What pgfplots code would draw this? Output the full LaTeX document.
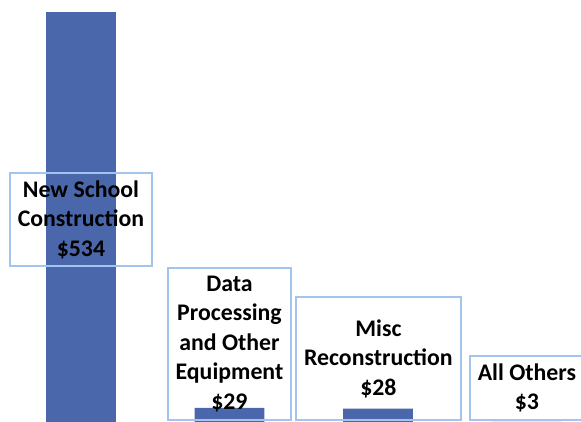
\documentclass[border=0pt]{standalone}
\usepackage{pgfplots}
\pgfplotsset{compat=1.18}
\usepackage{fontspec}
\setmainfont{Carlito}
\definecolor{barblue}{RGB}{74,103,172}
\definecolor{boxblue}{RGB}{164,196,240}
\tikzset{lbl/.style={draw=boxblue, line width=2pt, align=center, inner sep=0pt,
                     font=\fontsize{23.8}{29.5}\selectfont\bfseries}}
\begin{document}
\begin{tikzpicture}
\useasboundingbox (0,0) rectangle (581pt,422pt);
\clip (0,0) rectangle (581pt,422pt);
\begin{axis}[
  at={(0,0)}, anchor=south west,
  scale only axis, width=581pt, height=422pt,
  hide axis,
  ybar, bar width=0.47,
  xmin=-0.545, xmax=3.367,
  ymin=11.1, ymax=549.4,
  clip=false,
]
% spending by category, $ millions
\addplot[fill=barblue, draw=none] coordinates {(0,534) (1,29) (2,28) (3,3)};
\node[lbl, minimum width=142pt, minimum height=93pt] at (axis cs:0,269.4)
  {New School\\Construction\\\$534};
\node[lbl, minimum width=123pt, minimum height=152pt] at (axis cs:1,110.6)
  {Data\\Processing\\and Other\\Equipment\\\$29};
\node[lbl, minimum width=165pt, minimum height=123pt] at (axis cs:2.003,92.1)
  {Misc\\Reconstruction\\\$28};
\node[lbl, minimum width=114pt, minimum height=64pt] at (axis cs:3.003,54.5)
  {All Others\\\$3};
\end{axis}
\end{tikzpicture}
\end{document}
